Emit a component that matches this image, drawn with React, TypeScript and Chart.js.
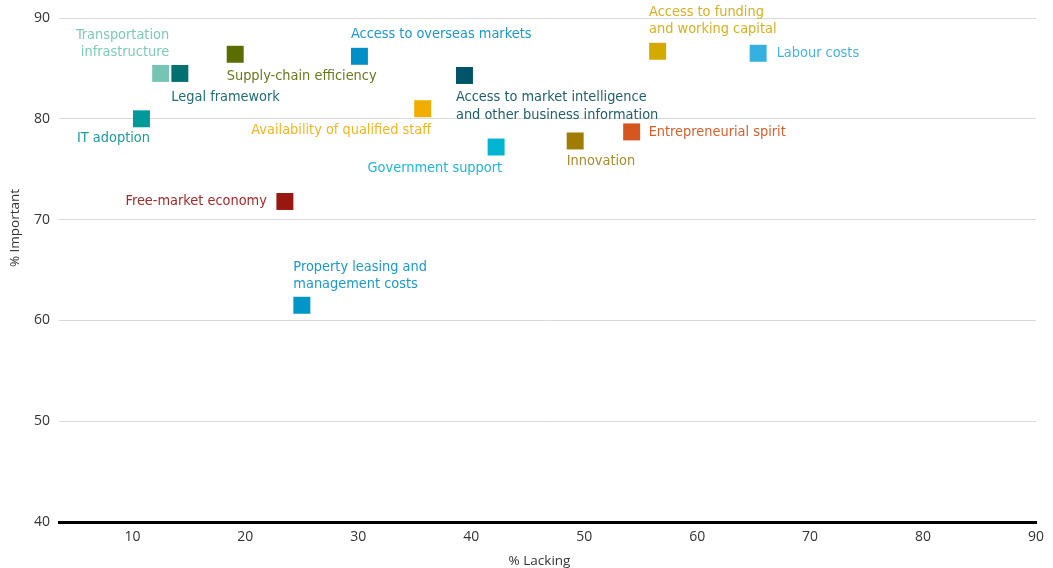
import { useEffect, useRef } from "react";
import { Chart, registerables } from "chart.js";

Chart.register(...registerables);

// Business-environment factors: share of respondents rating each factor
// as lacking (x) versus important (y).
const categories = [
  "Transportation\ninfrastructure",
  "Legal framework",
  "Supply-chain efficiency",
  "IT adoption",
  "Free-market economy",
  "Property leasing and\nmanagement costs",
  "Access to overseas markets",
  "Availability of qualified staff",
  "Access to market intelligence\nand other business information",
  "Government support",
  "Innovation",
  "Entrepreneurial spirit",
  "Access to funding\nand working capital",
  "Labour costs",
];

const lackingPct = [12.5, 14.2, 19.1, 10.8, 23.5, 25.0, 30.1, 35.7, 39.4, 42.2, 49.2, 54.2, 56.5, 65.4];
const importantPct = [84.5, 84.5, 86.4, 80.0, 71.8, 61.5, 86.2, 81.0, 84.3, 77.2, 77.8, 78.7, 86.7, 86.5];

const markerColors = [
  "#76c5b4", "#007070", "#5a6e00", "#009a9a", "#981811", "#0096c8", "#0090c8",
  "#f2ae00", "#005468", "#00b4d2", "#a07c00", "#d5561e", "#d4aa00", "#36b0e0",
];
const labelColors = [
  "#7ccab9", "#1e6e72", "#68791c", "#1a9c9c", "#a5292a", "#1a9acb", "#1a98cc",
  "#f4b41f", "#1f5e6e", "#1db8d5", "#aa8a2a", "#d75f2c", "#d8b01e", "#44b4e2",
];

const xTickValues = [10, 20, 30, 40, 50, 60, 70, 80, 90];
const yTickValues = [40, 50, 60, 70, 80, 90];

// Where each factor's name sits around its marker (pixels from the marker centre).
const labelPlacement: { align: CanvasTextAlign; dx: number; dy: number }[] = [
  { align: "right", dx: 8.5, dy: -38.5 },
  { align: "left", dx: -8.5, dy: 23.5 },
  { align: "left", dx: -8.5, dy: 22 },
  { align: "right", dx: 8.5, dy: 19.5 },
  { align: "right", dx: -18, dy: 0 },
  { align: "left", dx: -8.5, dy: -38.5 },
  { align: "left", dx: -8.5, dy: -22.5 },
  { align: "right", dx: 8.5, dy: 21.5 },
  { align: "left", dx: -8.5, dy: 22 },
  { align: "right", dx: 6, dy: 21.5 },
  { align: "left", dx: -8.5, dy: 20.5 },
  { align: "left", dx: 17, dy: 0 },
  { align: "left", dx: -8.5, dy: -39 },
  { align: "left", dx: 18.5, dy: 0 },
];

const LABEL_FONT = '14.4px "Liberation Sans Narrow", "DejaVu Sans Condensed", Roboto, sans-serif';
const AXIS_FONT_FAMILY = '"Open Sans", "DejaVu Sans", sans-serif';
const LINE_HEIGHT = 17.5;

const pointLabels = {
  id: "pointLabels",
  afterDatasetsDraw(chart: Chart) {
    const { ctx } = chart;
    const meta = chart.getDatasetMeta(0);
    ctx.save();
    ctx.font = LABEL_FONT;
    ctx.textBaseline = "middle";
    meta.data.forEach((el: any, i: number) => {
      const place = labelPlacement[i];
      ctx.fillStyle = labelColors[i];
      ctx.textAlign = place.align;
      categories[i].split("\n").forEach((line, k) => {
        ctx.fillText(line, el.x + place.dx, el.y + place.dy + k * LINE_HEIGHT);
      });
    });
    ctx.restore();
  },
};

const axisTitles = {
  id: "axisTitles",
  afterDraw(chart: Chart) {
    const { ctx, chartArea } = chart;
    ctx.save();
    ctx.fillStyle = "#333333";
    ctx.font = `13.5px ${AXIS_FONT_FAMILY}`;
    ctx.textAlign = "center";
    ctx.textBaseline = "middle";
    ctx.fillText("% Lacking", (chartArea.left + chartArea.right) / 2 - 8, chartArea.bottom + 39);
    ctx.translate(15, 228);
    ctx.rotate(-Math.PI / 2);
    ctx.fillText("% Important", 0, 0);
    ctx.restore();
  },
};

export default function App() {
  const canvasRef = useRef<HTMLCanvasElement>(null);

  useEffect(() => {
    document.body.style.margin = "0";
    const canvas = canvasRef.current;
    if (!canvas) return;
    const chart = new Chart(canvas, {
      type: "scatter",
      data: {
        datasets: [
          {
            data: lackingPct.map((x, i) => ({ x, y: importantPct[i] })),
            pointStyle: "rect",
            pointRadius: 12,
            pointHoverRadius: 12,
            pointBorderWidth: 0,
            pointBackgroundColor: markerColors,
            pointBorderColor: markerColors,
          },
        ],
      },
      options: {
        animation: false,
        responsive: true,
        maintainAspectRatio: false,
        layout: { padding: { top: 18, right: 17, left: 0, bottom: 0 } },
        plugins: {
          legend: { display: false },
          tooltip: { enabled: false },
        },
        scales: {
          x: {
            type: "linear",
            min: 3.5,
            max: 90,
            afterBuildTicks: (scale: any) => {
              scale.ticks = xTickValues.map((value) => ({ value }));
            },
            ticks: {
              color: "#333333",
              font: { family: AXIS_FONT_FAMILY, size: 14 },
              padding: 7,
              maxRotation: 0,
            },
            grid: { display: false, drawTicks: false },
            border: { display: true, color: "#000000", width: 3 },
            afterFit: (scale: any) => {
              scale.height = 46;
            },
          },
          y: {
            min: 40,
            max: 90,
            afterBuildTicks: (scale: any) => {
              scale.ticks = yTickValues.map((value) => ({ value }));
            },
            ticks: {
              color: "#333333",
              font: { family: AXIS_FONT_FAMILY, size: 14 },
              padding: 9,
            },
            grid: {
              drawTicks: false,
              color: (c: any) => (c.tick && c.tick.value === 40 ? "#000000" : "#d9d9d9"),
              lineWidth: (c: any) => (c.tick && c.tick.value === 40 ? 3 : 1),
            },
            border: { display: false },
            afterFit: (scale: any) => {
              scale.width = 59;
            },
          },
        },
      },
      plugins: [pointLabels, axisTitles],
    });
    return () => chart.destroy();
  }, []);

  return (
    <div style={{ position: "relative", width: 1053, height: 568 }}>
      <canvas ref={canvasRef} />
    </div>
  );
}
